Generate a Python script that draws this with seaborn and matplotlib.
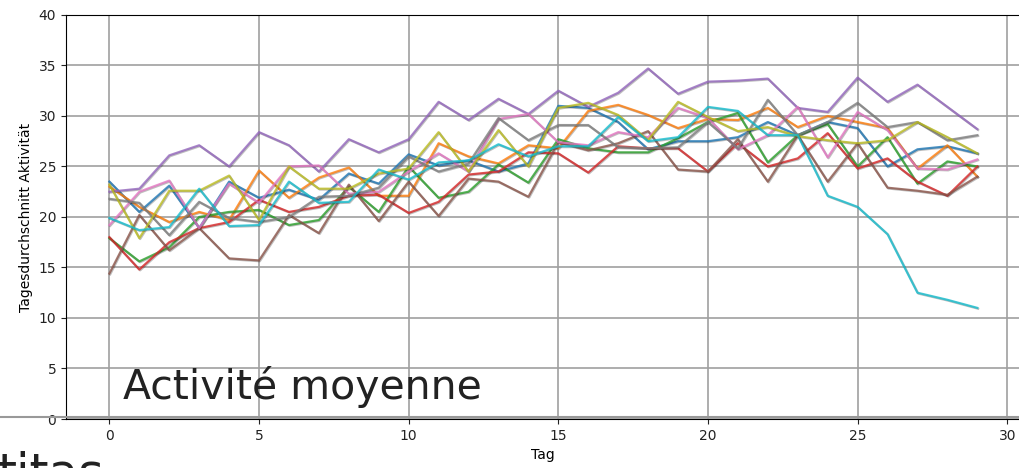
import numpy as np
import pandas as pd
import matplotlib
matplotlib.use('Agg')
import matplotlib.pyplot as plt
import matplotlib.patheffects as pe
from matplotlib.lines import Line2D
import seaborn as sns

# Tage 0..29, Tagesdurchschnitt je Person
tage = list(range(30))
blau = [23.5, 20.5, 23.1, 18.9, 23.5, 21.9, 22.7, 21.7, 24.3, 23.3, 26.2, 25.1, 25.6, 24.5, 25.3,
        31.0, 30.8, 29.4, 26.7, 27.5, 27.5, 27.9, 29.4, 28.1, 29.4, 28.8, 25.0, 26.7, 27.0, 26.3]
orange = [23.0, 21.0, 19.5, 20.5, 19.7, 24.6, 21.9, 23.9, 24.9, 22.1, 22.1, 27.3, 26.0, 25.3, 27.1,
          26.8, 30.5, 31.1, 30.1, 28.8, 29.7, 29.6, 30.8, 28.9, 30.0, 29.4, 28.8, 24.8, 27.1, 24.0]
gruen = [17.9, 15.6, 17.0, 20.0, 20.5, 20.7, 19.2, 19.7, 23.0, 20.5, 25.0, 21.9, 22.5, 25.2, 23.4,
         27.7, 26.8, 26.4, 26.4, 27.8, 29.4, 30.3, 25.4, 28.1, 29.2, 25.0, 27.9, 23.3, 25.5, 25.0]
rot = [18.0, 14.8, 17.5, 18.9, 19.5, 21.7, 20.5, 21.0, 22.1, 22.2, 20.4, 21.5, 24.2, 24.5, 26.4,
       26.3, 24.4, 27.0, 26.8, 26.8, 24.5, 27.3, 25.0, 25.8, 28.3, 24.8, 25.8, 23.5, 22.1, 25.0]
lila = [22.5, 22.8, 26.1, 27.1, 25.0, 28.4, 27.1, 24.5, 27.7, 26.4, 27.7, 31.4, 29.6, 31.7, 30.2,
        32.5, 30.9, 32.3, 34.7, 32.2, 33.4, 33.5, 33.7, 30.8, 30.4, 33.8, 31.4, 33.1, 30.9, 28.7]
braun = [14.4, 20.2, 16.7, 18.9, 15.9, 15.7, 20.2, 18.4, 23.2, 19.6, 23.5, 20.1, 23.8, 23.5, 22.0,
         27.4, 26.6, 27.3, 28.5, 24.7, 24.5, 27.7, 23.5, 28.1, 23.5, 27.3, 22.9, 22.6, 22.2, 24.0]
rosa = [19.2, 22.5, 23.6, 18.9, 23.3, 21.4, 25.0, 25.1, 22.3, 22.5, 24.5, 26.3, 24.5, 29.7, 30.2,
        27.4, 27.1, 28.4, 27.9, 30.8, 29.8, 26.7, 28.1, 30.9, 25.9, 30.4, 28.6, 24.8, 24.7, 25.7]
grau = [21.8, 21.4, 18.2, 21.5, 19.9, 19.5, 20.0, 22.0, 22.1, 22.9, 26.0, 24.5, 25.3, 29.8, 27.6,
        29.1, 29.1, 26.9, 26.8, 26.9, 29.4, 26.8, 31.6, 28.1, 29.4, 31.3, 28.9, 29.4, 27.6, 28.1]
oliv = [23.2, 17.9, 22.6, 22.6, 24.1, 19.7, 25.0, 22.8, 22.8, 24.3, 24.8, 28.4, 24.5, 28.6, 25.0,
        30.8, 31.3, 30.1, 27.6, 31.4, 29.9, 28.5, 28.9, 28.0, 27.6, 27.3, 27.6, 29.4, 27.9, 26.3]
cyan = [19.9, 18.7, 19.0, 22.8, 19.1, 19.2, 23.5, 21.4, 21.5, 24.7, 23.7, 25.4, 25.6, 27.2, 26.0,
        27.0, 27.0, 29.9, 27.5, 27.9, 30.9, 30.5, 28.1, 28.1, 22.1, 21.0, 18.3, 12.5, 11.8, 11.0]

reihen = [blau, orange, gruen, rot, lila, braun, rosa, grau, oliv, cyan]

rows = []
for i, r in enumerate(reihen):
    for t, v in zip(tage, r):
        rows.append({'Tag': t, 'Wert': v, 'Person': i})
df = pd.DataFrame(rows)

fig = plt.figure(figsize=(10.2, 4.68), dpi=100)
ax = fig.add_axes([0.0647, 0.1047, 0.936, 0.8633])

sns.lineplot(data=df, x='Tag', y='Wert', hue='Person', palette='tab10',
             legend=False, ax=ax, linewidth=1.6, alpha=0.8)
for ln in ax.lines:
    ln.set_path_effects([pe.SimpleLineShadow(offset=(0.6, -0.6), alpha=0.25), pe.Normal()])

ax.set_ylim(0, 40)
ax.set_xlim(-1.45, 30.45)
ax.set_xticks([0, 5, 10, 15, 20, 25, 30])
ax.set_yticks(range(0, 41, 5))
ax.grid(True, color='#a0a0a0', linewidth=1.2)
ax.set_axisbelow(True)
ax.set_xlabel('Tag', fontsize=10)
ax.set_ylabel('Tagesdurchschnitt Aktivität', fontsize=10)
ax.tick_params(labelsize=10, colors='#222222')

ax.text(0.47, 2.0, 'Activité moyenne', fontsize=29.5, color='#222222', va='baseline')

# Linie und abgeschnittener Text vom Nachbarbild
fig.add_artist(Line2D([0, 1], [0.109, 0.109], color='#999999', linewidth=1.5))
fig.text(-0.002, -0.043, 'titas', fontsize=35, color='#222222', va='baseline')

fig.savefig('out.png', dpi=100)
